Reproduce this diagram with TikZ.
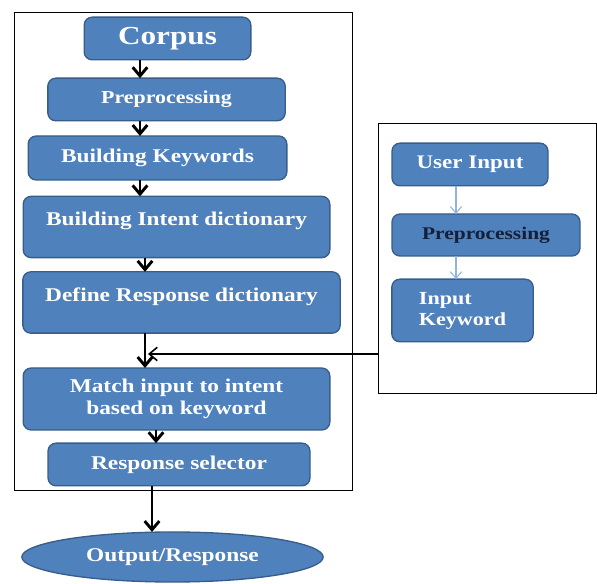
\documentclass[tikz,border=0pt]{standalone}
\usepackage{fontspec}
\usetikzlibrary{arrows.meta,shapes.geometric}
\newfontfamily\boxfont[FakeStretch=1.2]{Liberation Serif}
\definecolor{boxblue}{HTML}{4F81BD}
\definecolor{boxedge}{HTML}{385D8A}
\definecolor{lightarrow}{HTML}{8EB4E3}
\definecolor{navytext}{HTML}{14203A}

\begin{document}
\begin{tikzpicture}[x=0.75pt,y=0.75pt,yscale=-1,xscale=1,
    stepbox/.style={draw=boxedge,fill=boxblue,rounded corners=6pt,line width=1pt,inner sep=0pt,outer sep=0pt,text=white,align=center,font=\boxfont\bfseries\fontsize{14.6}{16}\selectfont},
    framebox/.style={draw=black,line width=0.8pt,inner sep=0pt,outer sep=0pt},
    flow/.style={draw=black,line width=2.2pt,-{Straight Barb[length=6.5pt,width=11pt]}},
    thinflow/.style={draw=lightarrow,line width=0.8pt,-{Straight Barb[length=5pt,width=8.5pt]}}]
    \useasboundingbox (0,0) rectangle (597,584);

    %Shape: Rectangle [frames]
    \node [framebox, minimum width=253pt, minimum height=359pt] (lframe) at (183.5,251.5) {};
    \node [framebox, minimum width=163pt, minimum height=203pt] (rframe) at (487.5,258.5) {};

    %Shape: Rounded Rect [left column]
    \node [stepbox, minimum width=125pt, minimum height=32pt, font=\boxfont\bfseries\fontsize{19.5}{21}\selectfont] (corpus) at (167.5,38.5) {Corpus};
    \node [stepbox, minimum width=178pt, minimum height=32pt, font=\boxfont\bfseries\fontsize{13.7}{15}\selectfont] (prepL) at (166.5,99.5) {Preprocessing};
    \node [stepbox, minimum width=194pt, minimum height=33pt] (keywords) at (157.5,158) {Building Keywords};
    \node [stepbox, minimum width=230pt, minimum height=46pt, text depth=12pt] (intent) at (176.5,227) {Building Intent dictionary};
    \node [stepbox, minimum width=238pt, minimum height=46pt, text depth=12pt] (response) at (181.5,302.5) {Define Response dictionary};
    \node [stepbox, minimum width=230pt, minimum height=46.5pt] (match) at (176.5,399) {Match input to intent\\based on keyword};
    \node [stepbox, minimum width=196.5pt, minimum height=32pt] (selector) at (179,464.5) {Response selector};
    %Shape: Ellipse
    \node [stepbox, ellipse, rounded corners=0pt, minimum width=226pt, minimum height=37.5pt] (output) at (172.5,557) {Output/Response};

    %Shape: Rounded Rect [right column]
    \node [stepbox, minimum width=117pt, minimum height=32pt, font=\boxfont\bfseries\fontsize{14.4}{16}\selectfont] (userin) at (470,164.5) {User Input};
    \node [stepbox, minimum width=141pt, minimum height=31.5pt, text=navytext, font=\boxfont\bfseries\fontsize{13.4}{15}\selectfont] (prepR) at (486,235) {Preprocessing};
    \node [stepbox, minimum width=106pt, minimum height=47pt, align=left, font=\boxfont\bfseries\fontsize{13.8}{15.8}\selectfont] (inkey) at (462.5,310.5) {Input\\Keyword};

    % arrow columns
    \coordinate (c1) at (140,0);
    \coordinate (c2) at (145,0);
    \coordinate (c3) at (156,0);
    \coordinate (c4) at (152,0);
    \coordinate (c5) at (456,0);
    \coordinate (join) at (148,354);

    %Straight Lines
    \draw [flow] (corpus.south -| c1) -- (prepL.north -| c1);
    \draw [flow] (prepL.south -| c1) -- (keywords.north -| c1);
    \draw [flow] (keywords.south -| c1) -- (intent.north -| c1);
    \draw [flow] (intent.south -| c2) -- (response.north -| c2);
    \draw [flow] (response.south -| c2) -- (match.north -| c2);
    \draw [flow] (match.south -| c3) -- (selector.north -| c3);
    \draw [flow] (selector.south -| c4) -- (output.north -| c4);
    \draw [thinflow] (userin.south -| c5) -- (prepR.north -| c5);
    \draw [thinflow] (prepR.south -| c5) -- (inkey.north -| c5);
    \draw [line width=1.2pt, -{Straight Barb[length=6pt,width=10pt]}] (rframe.west |- join) -- (join);

\end{tikzpicture}
\end{document}
